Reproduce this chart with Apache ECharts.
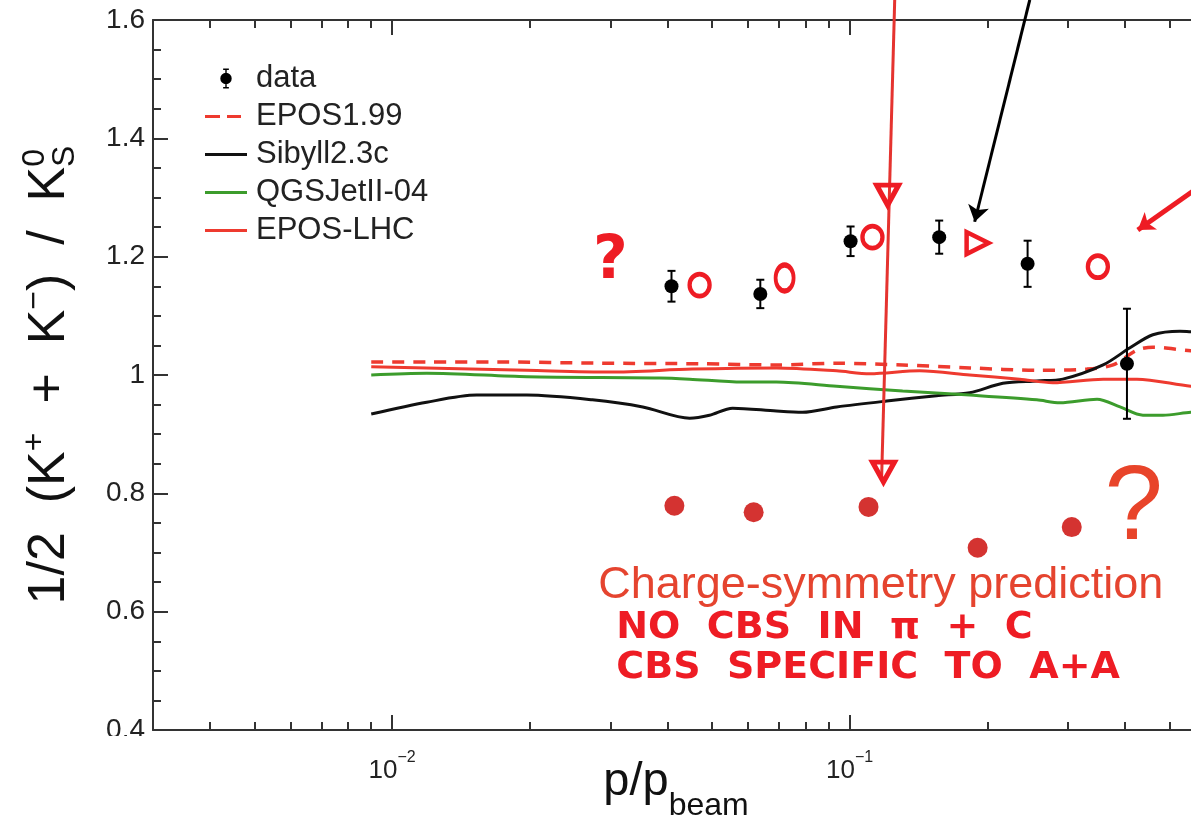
<!DOCTYPE html>
<html>
<head>
<meta charset="utf-8">
<script src="https://cdn.jsdelivr.net/npm/echarts@6/dist/echarts.min.js"></script>
<style>
html, body { margin: 0; padding: 0; background: #fff; }
#main { width: 1191px; height: 820px; }
</style>
</head>
<body>
<div id="main"></div>
<script>
// data points (p/p_beam, ratio, error)
var dataX = [0.0408, 0.0638, 0.1005, 0.157, 0.245, 0.404];
var dataY = [1.150, 1.137, 1.226, 1.233, 1.188, 1.019];
var dataErr = [0.026, 0.024, 0.025, 0.028, 0.039, 0.093];

// model curves
var eposOldX = [0.009, 0.0119, 0.0171, 0.0284, 0.047, 0.0692, 0.0937, 0.1306, 0.1831, 0.2566, 0.3304, 0.3767, 0.4249, 0.4603, 0.557, 0.68];
var eposOldY = [1.022, 1.022, 1.022, 1.020, 1.019, 1.017, 1.020, 1.017, 1.012, 1.008, 1.010, 1.017, 1.042, 1.047, 1.041, 1.040];
var sibyllX = [0.009, 0.0119, 0.0153, 0.0197, 0.0274, 0.0353, 0.0447, 0.0494, 0.0555, 0.0692, 0.0789, 0.0937, 0.1205, 0.1549, 0.1831, 0.2163, 0.2566, 0.2925, 0.3583, 0.4102, 0.4603, 0.5275, 0.557, 0.68];
var sibyllY = [0.934, 0.954, 0.966, 0.966, 0.958, 0.946, 0.927, 0.932, 0.944, 0.939, 0.937, 0.946, 0.956, 0.965, 0.970, 0.986, 0.990, 0.993, 1.017, 1.046, 1.068, 1.074, 1.073, 1.070];
var qgsX = [0.009, 0.0119, 0.0197, 0.0384, 0.0447, 0.0583, 0.0692, 0.0937, 0.1306, 0.1831, 0.2566, 0.2883, 0.3475, 0.3902, 0.4379, 0.4842, 0.557, 0.68];
var qgsY = [1.000, 1.003, 0.997, 0.995, 0.993, 0.988, 0.988, 0.981, 0.973, 0.966, 0.958, 0.953, 0.959, 0.946, 0.932, 0.932, 0.937, 0.940];
var eposLhcX = [0.009, 0.0197, 0.0299, 0.0453, 0.0692, 0.0937, 0.1107, 0.1423, 0.1831, 0.2355, 0.278, 0.3583, 0.4249, 0.557, 0.68];
var eposLhcY = [1.014, 1.008, 1.005, 1.010, 1.012, 1.007, 1.002, 1.007, 1.000, 0.993, 0.987, 0.993, 0.993, 0.981, 0.978];

// charge-symmetry prediction dots
var predX = [0.0414, 0.0617, 0.110, 0.1905, 0.306];
var predY = [0.779, 0.768, 0.777, 0.708, 0.743];

// hand drawn marks
var ringX = [0.047, 0.0721, 0.1122, 0.1905, 0.349];
var ringY = [1.152, 1.164, 1.233, 1.223, 1.183];
var blobX = [0.1211, 0.1186];
var blobY = [1.304, 0.836];
var redLine = [[0.1255, 1.634], [0.1175, 0.826]];
var blackArrow = [[0.2477, 1.634], [0.1877, 1.259]];
var redArrow = [[0.7137, 1.367], [0.4267, 1.245]];

// ticks
var majorTicks = [0.01, 0.1, 1];
var minorTicks = [0.003, 0.004, 0.005, 0.006, 0.007, 0.008, 0.009,
    0.02, 0.03, 0.04, 0.05, 0.06, 0.07, 0.08, 0.09,
    0.2, 0.3, 0.4, 0.5, 0.6, 0.7, 0.8, 0.9];

var chart = echarts.init(document.getElementById('main'));

function pairs(xs, ys) {
    return xs.map(function(x, i) { return [x, ys[i]]; });
}

var axisColor = '#333';
var font = 'Liberation Sans';
var hand = '#ee1c24';
var solidIcon = 'path://M0,0H42V3H0Z';
var dashIcon = 'path://M0,0H15V3H0Z M22,0H36V3H22Z M42,0H42V3H42Z';

function xAxisCfg(pos, ticks, len, labels) {
    return {
        type: 'log',
        logBase: 10,
        min: 0.003,
        max: 1,
        position: pos,
        axisLine: { show: len > 10, onZero: false, lineStyle: { color: axisColor, width: 2 } },
        axisTick: { show: true, inside: true, length: len, customValues: ticks, lineStyle: { color: axisColor, width: 2 } },
        minorTick: { show: false },
        splitLine: { show: false },
        axisLabel: labels ? {
            show: true,
            customValues: [0.01, 0.1],
            margin: 20,
            formatter: function(v) {
                var e = Math.round(Math.log10(v));
                return '{b|10}{s|\u2212' + (-e) + '}';
            },
            rich: {
                b: { fontSize: 26, fontFamily: font, color: '#222', lineHeight: 34, verticalAlign: 'bottom' },
                s: { fontSize: 16, fontFamily: font, color: '#222', lineHeight: 34, verticalAlign: 'top' }
            }
        } : { show: false }
    };
}

var xMain = xAxisCfg('bottom', majorTicks, 15, true);
xMain.name = '{n|p/p}{sub|beam}';
xMain.nameLocation = 'middle';
xMain.nameGap = 13;
xMain.nameMoveOverlap = false;
xMain.nameTextStyle = {
    padding: [0, 108, 0, 0],
    rich: {
        n: { fontSize: 47, fontFamily: font, color: '#111', lineHeight: 79 },
        sub: { fontSize: 32, fontFamily: font, color: '#111', lineHeight: 32, verticalAlign: 'bottom' }
    }
};

chart.setOption({
    animation: false,
    backgroundColor: '#fff',
    grid: { left: 153, top: 20, right: -116, bottom: 90, outerBoundsMode: 'none', containLabel: false },
    legend: {
        orient: 'vertical',
        left: 200,
        top: 58,
        itemWidth: 42,
        itemHeight: 20,
        itemGap: 7,
        textStyle: { fontSize: 31, fontFamily: font, color: '#222', lineHeight: 31, padding: [0, 0, 0, 4] },
        data: [
            { name: 'data', icon: 'path://M10,0H18V2H10Z M13,0H15V28H13Z M10,26H18V28H10Z M14,6A8,8 0 1 1 14,22A8,8 0 1 1 14,6Z' },
            { name: 'EPOS1.99', icon: dashIcon },
            { name: 'Sibyll2.3c', icon: solidIcon },
            { name: 'QGSJetII-04', icon: solidIcon },
            { name: 'EPOS-LHC', icon: solidIcon }
        ]
    },
    xAxis: [
        xMain,
        xAxisCfg('top', majorTicks, 15, false),
        xAxisCfg('bottom', minorTicks, 8, false),
        xAxisCfg('top', minorTicks, 8, false)
    ],
    yAxis: {
        type: 'value',
        min: 0.4,
        max: 1.6,
        interval: 0.2,
        axisLine: { show: true, lineStyle: { color: axisColor, width: 2 } },
        axisTick: { inside: true, length: 15, lineStyle: { color: axisColor, width: 2 } },
        minorTick: { show: true, splitNumber: 4, length: 8, lineStyle: { color: axisColor, width: 2 } },
        splitLine: { show: false },
        axisLabel: {
            fontSize: 28, fontFamily: font, color: '#222', margin: 8,
            formatter: function(v) { return String(+v.toFixed(1)); }
        },
        name: '{n|1/2  (K}{sup|+}{n|  +  K}{sup|\u2212}{n|)  /  K}{sup|0}{sb|S}',
        nameLocation: 'middle',
        nameGap: 72,
        nameMoveOverlap: false,
        nameTextStyle: {
            rich: {
                n: { fontSize: 52, fontFamily: font, color: '#111', lineHeight: 62 },
                sup: { fontSize: 32, fontFamily: font, color: '#111', lineHeight: 62, verticalAlign: 'top' },
                sb: { fontSize: 32, fontFamily: font, color: '#111', lineHeight: 62, verticalAlign: 'bottom', padding: [0, 0, 0, -18] }
            }
        }
    },
    graphic: [
        // the source picture cuts the lowest tick label in half
        { type: 'rect', left: 90, top: 736, shape: { width: 60, height: 20 }, style: { fill: '#fff' }, z: 100 }
    ],
    series: [
        {
            name: 'EPOS1.99', type: 'line', data: pairs(eposOldX, eposOldY),
            symbol: 'none', smooth: 0.3, color: '#ee3a2f',
            lineStyle: { width: 3.5, type: [12, 9], color: '#ee3a2f' }
        },
        {
            name: 'Sibyll2.3c', type: 'line', data: pairs(sibyllX, sibyllY),
            symbol: 'none', smooth: 0.3, color: '#111',
            lineStyle: { width: 3, color: '#111' }
        },
        {
            name: 'QGSJetII-04', type: 'line', data: pairs(qgsX, qgsY),
            symbol: 'none', smooth: 0.3, color: '#3c9c2c',
            lineStyle: { width: 3, color: '#3c9c2c' }
        },
        {
            name: 'EPOS-LHC', type: 'line', data: pairs(eposLhcX, eposLhcY),
            symbol: 'none', smooth: 0.3, color: '#ee3a2f',
            lineStyle: { width: 3, color: '#ee3a2f' }
        },
        {
            name: 'data err', type: 'custom', z: 4,
            data: dataX.map(function(x, i) { return [x, dataY[i] - dataErr[i], dataY[i] + dataErr[i]]; }),
            encode: { x: 0, y: [1, 2] },
            renderItem: function(params, api) {
                var lo = api.coord([api.value(0), api.value(1)]);
                var hi = api.coord([api.value(0), api.value(2)]);
                var w = 4;
                var st = { stroke: '#000', lineWidth: 2 };
                return {
                    type: 'group',
                    children: [
                        { type: 'line', shape: { x1: lo[0], y1: lo[1], x2: hi[0], y2: hi[1] }, style: st },
                        { type: 'line', shape: { x1: lo[0] - w, y1: lo[1], x2: lo[0] + w, y2: lo[1] }, style: st },
                        { type: 'line', shape: { x1: hi[0] - w, y1: hi[1], x2: hi[0] + w, y2: hi[1] }, style: st }
                    ]
                };
            }
        },
        {
            name: 'data', type: 'scatter', data: pairs(dataX, dataY), z: 5,
            symbol: 'circle', symbolSize: 14, itemStyle: { color: '#000', opacity: 1 }
        },
        {
            name: 'prediction', type: 'scatter', data: pairs(predX, predY),
            symbol: 'circle', symbolSize: 20, itemStyle: { color: '#d43331', opacity: 1 }
        },
        {
            name: 'rings', type: 'scatter', z: 6,
            data: pairs(ringX, ringY).map(function(p, i) {
                return i === 3
                    ? { value: p, symbol: 'triangle', symbolRotate: -90, symbolSize: [22, 22] }
                    : { value: p, symbolSize: i === 1 ? [18, 26] : [20, 22] };
            }),
            symbol: 'circle',
            itemStyle: { color: 'rgba(255,255,255,0)', borderColor: hand, borderWidth: 4.5, opacity: 1 }
        },
        {
            name: 'blobs', type: 'scatter', z: 7, clip: false,
            data: pairs(blobX, blobY),
            symbol: 'triangle', symbolRotate: 180, symbolSize: [22, 20],
            itemStyle: { color: 'rgba(255,255,255,0)', borderColor: hand, borderWidth: 5, opacity: 1 }
        },
        {
            name: 'red line', type: 'lines', coordinateSystem: 'cartesian2d', clip: false, z: 6,
            symbol: 'none',
            data: [{ coords: redLine }],
            lineStyle: { color: '#e5332f', width: 3, opacity: 1 }
        },
        {
            name: 'arrows', type: 'lines', coordinateSystem: 'cartesian2d', clip: false, z: 6,
            symbol: ['none', 'arrow'], symbolSize: 16,
            data: [
                { coords: blackArrow, lineStyle: { color: '#000', width: 3 } },
                { coords: redArrow, lineStyle: { color: hand, width: 5 } }
            ],
            lineStyle: { width: 4, opacity: 1 }
        },
        {
            name: 'notes', type: 'scatter', symbolSize: 1, clip: false, z: 8,
            itemStyle: { color: 'rgba(255,255,255,0)', opacity: 1 },
            label: { show: true, position: 'inside', fontFamily: font },
            data: [
                { value: [0.117, 0.6434], label: { formatter: 'Charge-symmetry prediction', fontSize: 45, color: '#e5442f' } },
                { value: [0.418, 0.772], label: { formatter: '?', fontSize: 105, color: '#e8442a' } },
                { value: [0.03, 1.19], label: { formatter: '?', fontSize: 60, fontWeight: 'bold', fontFamily: 'DejaVu Sans', color: hand } },
                { value: [0.0309, 0.5725], label: { formatter: 'NO  CBS  IN  \u03c0  +  C', align: 'left', fontSize: 38, fontWeight: 'bold', fontFamily: 'DejaVu Sans', color: hand } },
                { value: [0.0309, 0.5049], label: { formatter: 'CBS  SPECIFIC  TO  A+A', align: 'left', fontSize: 38, fontWeight: 'bold', fontFamily: 'DejaVu Sans', color: hand } }
            ]
        }
    ]
});
</script>
</body>
</html>
